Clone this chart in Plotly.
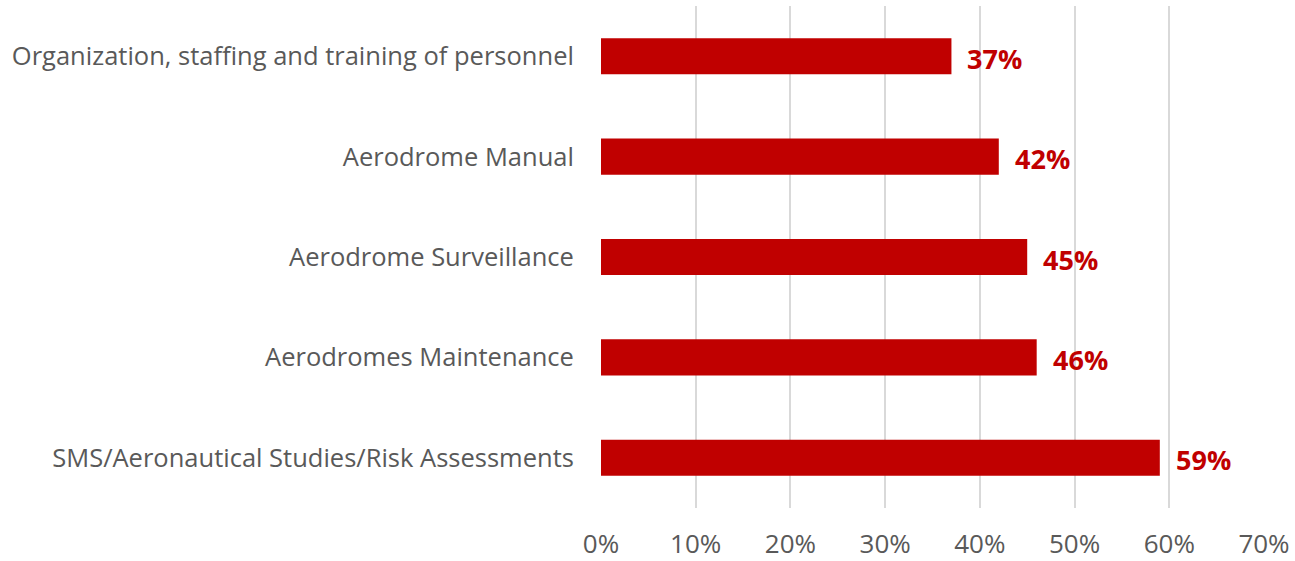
import plotly.graph_objects as go

categories = [
    "SMS/Aeronautical Studies/Risk Assessments",
    "Aerodromes Maintenance",
    "Aerodrome Surveillance",
    "Aerodrome Manual",
    "Organization, staffing and training of personnel",
]
values = [59, 46, 45, 42, 37]
tick_vals = [0, 10, 20, 30, 40, 50, 60, 70]
tick_text = ["0%", "10%", "20%", "30%", "40%", "50%", "60%", "70%"]

RED = "#C00000"
GRAY = "#595959"
FONT = "Open Sans"

fig = go.Figure()
fig.add_trace(go.Bar(
    y=categories, x=values, orientation="h",
    marker=dict(color=RED, line=dict(width=0)),
    width=0.36, hoverinfo="skip", cliponaxis=False,
))
for c, v in zip(categories, values):
    fig.add_annotation(
        x=v, y=c, text=f"<b>{v}%</b>", showarrow=False,
        xanchor="left", xshift=14, yshift=-2,
        font=dict(family=FONT, size=27, color=RED),
    )

fig.update_layout(
    width=1295, height=561,
    margin=dict(l=601, r=31, t=6, b=53, autoexpand=False),
    paper_bgcolor="white", plot_bgcolor="white",
    showlegend=False,
    font=dict(family=FONT, color=GRAY),
)
fig.update_xaxes(
    range=[0, 70], tickvals=tick_vals, ticktext=tick_text,
    showgrid=True, gridcolor="#D9D9D9", gridwidth=1.5,
    zeroline=False, showline=False, automargin=False,
    ticks="outside", ticklen=13, tickcolor="rgba(0,0,0,0)",
    tickfont=dict(family=FONT, size=26, color=GRAY),
)
fig.update_yaxes(
    range=[-0.5, 4.5], showgrid=False, zeroline=False, showline=False,
    automargin=False,
    ticks="outside", ticklen=21, tickcolor="rgba(0,0,0,0)",
    tickfont=dict(family=FONT, size=25.5, color=GRAY),
)
fig.write_html(
    "out.html",
    config={"displayModeBar": False},
    post_script="document.body.style.margin='0';document.body.style.overflow='hidden';",
)
